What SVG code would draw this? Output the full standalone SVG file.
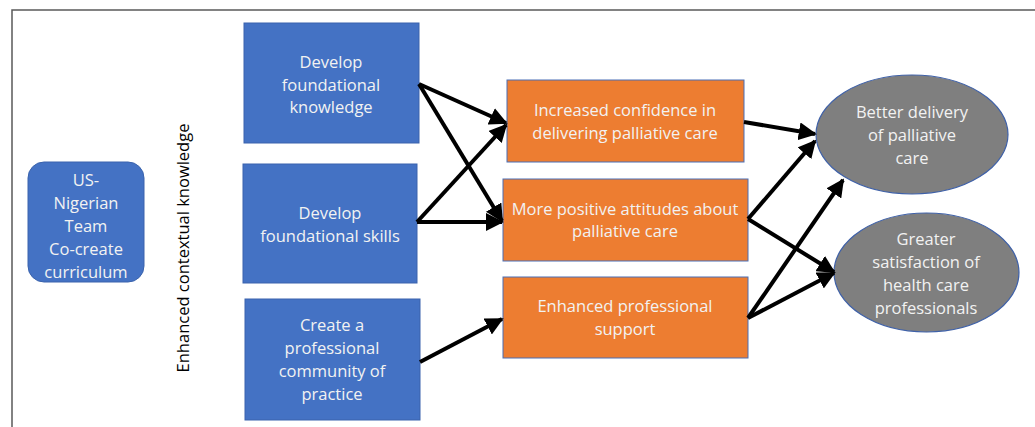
<svg xmlns="http://www.w3.org/2000/svg" width="1035" height="427" viewBox="0 0 1035 427">
<style>
.t{font-family:"Open Sans","Liberation Sans",sans-serif;font-size:16.5px;fill:#f2f2f2;text-anchor:middle}
.blue{fill:#4472c4;stroke:#3a63ad;stroke-width:1}
.org{fill:#ed7d31;stroke:#4a6fb5;stroke-width:1}
.ell{fill:#7f7f7f;stroke:#3f61a8;stroke-width:1.2}
.c{stroke:#000;stroke-width:4;fill:none;marker-end:url(#ah)}
</style>
<defs>
<marker id="ah" viewBox="0 0 10 10" refX="9" refY="5" markerWidth="4.5" markerHeight="4.5" markerUnits="strokeWidth" orient="auto">
<path d="M0,0 L10,5 L0,10 z" fill="#000"/>
</marker>
</defs>
<rect width="1035" height="427" fill="#fff"/>
<path d="M12,427 V10 H1035" fill="none" stroke="#595959" stroke-width="1.5"/>
<g id="team">
<rect x="28" y="162" width="116" height="120" rx="16" class="blue"/>
<text class="t" x="86" y="186">US-</text>
<text class="t" x="86" y="209">Nigerian</text>
<text class="t" x="86" y="232">Team</text>
<text class="t" x="86" y="255">Co-create</text>
<text class="t" x="86" y="278">curriculum</text>
</g>
<g id="context">
<text class="t" style="fill:#000" transform="translate(189,248) rotate(-90)">Enhanced contextual knowledge</text>
</g>
<g id="knowledge">
<rect x="244" y="23" width="175" height="120" class="blue"/>
<text class="t" x="331" y="68">Develop</text>
<text class="t" x="331" y="91">foundational</text>
<text class="t" x="331" y="113">knowledge</text>
</g>
<g id="skills">
<rect x="243" y="164" width="174" height="119" class="blue"/>
<text class="t" x="330" y="219">Develop</text>
<text class="t" x="330" y="242">foundational skills</text>
</g>
<g id="community">
<rect x="245" y="299" width="175" height="121" class="blue"/>
<text class="t" x="332" y="331">Create a</text>
<text class="t" x="332" y="354">professional</text>
<text class="t" x="332" y="377">community of</text>
<text class="t" x="332" y="400">practice</text>
</g>
<g id="confidence">
<rect x="507" y="80" width="237" height="82" class="org"/>
<text class="t" x="625" y="116">Increased confidence in</text>
<text class="t" x="625" y="139">delivering palliative care</text>
</g>
<g id="attitudes">
<rect x="503" y="179" width="245" height="82" class="org"/>
<text class="t" x="625" y="215">More positive attitudes about</text>
<text class="t" x="625" y="237">palliative care</text>
</g>
<g id="support">
<rect x="503" y="277" width="245" height="81" class="org"/>
<text class="t" x="625" y="312">Enhanced professional</text>
<text class="t" x="625" y="335">support</text>
</g>
<g id="delivery">
<ellipse cx="912" cy="134.5" rx="96" ry="59.5" class="ell"/>
<text class="t" x="912" y="118">Better delivery</text>
<text class="t" x="912" y="141">of palliative</text>
<text class="t" x="912" y="164">care</text>
</g>
<g id="satisfaction">
<ellipse cx="926.5" cy="272.5" rx="92.5" ry="59.5" class="ell"/>
<text class="t" x="926" y="245">Greater</text>
<text class="t" x="926" y="268">satisfaction of</text>
<text class="t" x="926" y="291">health care</text>
<text class="t" x="926" y="314">professionals</text>
</g>
<g id="connectors">
<path class="c" d="M419,84 L506,123"/>
<path class="c" d="M419,84 L502,221"/>
<path class="c" d="M417,222 L506,125"/>
<path class="c" d="M417,222 L502,222"/>
<path class="c" d="M420,362 L502,319"/>
<path class="c" d="M744,122 L815,134"/>
<path class="c" d="M748,219 L815,141"/>
<path class="c" d="M748,219 L834,272"/>
<path class="c" d="M748,318 L843,180"/>
<path class="c" d="M748,318 L834,273"/>
</g>
</svg>
